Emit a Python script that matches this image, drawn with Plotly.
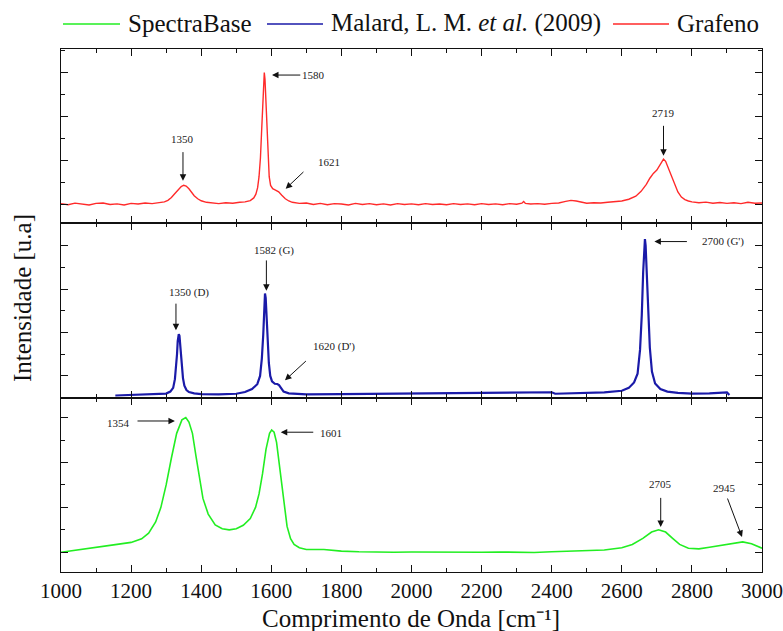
import plotly.graph_objects as go
from plotly.subplots import make_subplots

# ---------------- data ----------------
grafeno_pts = [
    (1000,0.02),(1020,-0.03),(1040,0.04),(1060,0.00),(1080,-0.04),(1100,0.03),(1120,0.05),(1140,-0.02),
    (1160,0.01),(1180,-0.04),(1200,0.03),(1220,0.00),(1240,0.05),(1260,0.02),(1280,0.06),(1295,0.10),
    (1305,0.17),(1315,0.30),(1325,0.48),(1335,0.68),(1343,0.80),(1350,0.86),(1357,0.82),(1365,0.70),
    (1372,0.55),(1380,0.38),(1390,0.24),(1400,0.15),(1415,0.08),(1430,0.05),(1450,0.02),(1470,0.06),
    (1490,0.04),(1510,0.08),(1525,0.10),(1540,0.16),(1550,0.28),(1556,0.45),(1561,0.75),(1565,1.25),
    (1569,2.1),(1572,3.2),(1575,4.5),(1578,5.6),(1580,6.0),(1582,5.7),(1585,4.6),(1588,3.2),(1591,2.0),
    (1594,1.25),(1598,0.85),(1604,0.70),(1612,0.64),(1621,0.56),(1630,0.40),(1640,0.24),(1650,0.14),
    (1660,0.08),(1680,0.03),(1700,0.05),(1720,-0.02),(1740,0.03),(1760,-0.03),(1780,0.02),(1800,0.00),
    (1820,-0.04),(1840,0.03),(1860,-0.02),(1880,0.02),(1900,-0.03),(1920,0.01),(1940,-0.04),(1960,0.02),
    (1980,-0.02),(2000,0.01),(2020,-0.03),(2040,0.02),(2060,-0.02),(2080,0.00),(2100,-0.03),(2120,0.02),
    (2140,-0.02),(2160,0.01),(2180,-0.03),(2200,0.02),(2220,-0.02),(2240,0.01),(2260,-0.03),(2280,0.02),
    (2300,-0.01),(2315,0.04),(2320,0.12),(2325,0.03),(2340,0.00),(2360,0.02),(2380,-0.01),(2400,0.03),
    (2420,0.05),(2440,0.12),(2455,0.17),(2470,0.14),(2485,0.08),(2500,0.04),(2520,0.06),(2540,0.05),
    (2560,0.08),(2580,0.10),(2600,0.14),(2620,0.22),(2640,0.36),(2655,0.58),(2670,0.90),(2680,1.18),
    (2690,1.40),(2700,1.55),(2710,1.80),(2719,2.05),(2725,1.95),(2732,1.68),(2740,1.30),(2750,0.90),
    (2760,0.55),(2770,0.32),(2780,0.20),(2790,0.14),(2800,0.10),(2820,0.06),(2840,0.09),(2860,0.04),
    (2880,0.07),(2900,0.03),(2920,0.06),(2940,0.02),(2960,0.08),(2980,0.04),(3000,0.05),
]

malard_pts = [
    (1155,0.10),(1200,0.12),(1250,0.14),(1280,0.16),(1300,0.19),(1312,0.28),(1320,0.45),(1325,0.85),
    (1328,1.3),(1331,2.0),(1333,2.6),(1336,2.92),(1338,2.85),(1340,2.5),(1342,2.0),(1345,1.4),(1348,0.9),
    (1352,0.55),(1358,0.35),(1365,0.26),(1380,0.20),(1400,0.16),(1450,0.15),(1500,0.18),(1525,0.26),
    (1545,0.40),(1560,0.62),(1568,1.0),(1573,1.8),(1577,2.9),(1580,4.0),(1582,4.8),(1584,4.6),(1587,3.6),
    (1590,2.5),(1593,1.6),(1597,1.0),(1602,0.75),(1610,0.64),(1617,0.63),(1622,0.58),(1628,0.42),
    (1635,0.28),(1650,0.20),(1700,0.15),(1800,0.16),(1900,0.17),(2000,0.18),(2100,0.19),(2200,0.21),
    (2300,0.23),(2400,0.25),(2410,0.18),(2450,0.20),(2500,0.21),(2550,0.24),(2600,0.32),(2620,0.45),
    (2635,0.70),(2645,1.1),(2652,2.2),(2657,3.8),(2661,5.8),(2664,7.0),(2666,7.3),(2668,7.0),(2671,5.8),
    (2675,4.0),(2680,2.3),(2686,1.2),(2695,0.65),(2710,0.40),(2730,0.28),(2760,0.22),(2800,0.19),
    (2850,0.20),(2880,0.22),(2900,0.24),(2907,0.12),
]

spectrabase_pts = [
    (1000,0.0),(1050,0.12),(1100,0.24),(1150,0.33),(1200,0.44),(1230,0.60),(1250,0.85),(1270,1.35),
    (1285,2.0),(1300,3.0),(1315,4.2),(1330,5.3),(1345,5.9),(1356,6.0),(1365,5.8),(1375,5.3),(1385,4.3),
    (1395,3.3),(1405,2.4),(1420,1.7),(1440,1.22),(1460,1.05),(1480,1.0),(1500,1.05),(1520,1.2),
    (1540,1.5),(1555,2.0),(1565,2.6),(1575,3.5),(1585,4.6),(1595,5.3),(1601,5.45),(1608,5.35),
    (1615,4.9),(1622,4.0),(1630,2.9),(1638,1.9),(1645,1.15),(1655,0.6),(1665,0.35),(1680,0.2),
    (1700,0.12),(1750,0.12),(1800,0.05),(1850,0.02),(1900,0.0),(1950,0.0),(2000,0.01),(2050,0.0),
    (2100,0.02),(2150,0.01),(2200,0.0),(2250,0.01),(2300,0.0),(2350,-0.01),(2400,0.02),(2450,0.05),
    (2500,0.06),(2550,0.10),(2600,0.2),(2630,0.35),(2660,0.62),(2685,0.9),(2705,1.0),(2725,0.9),
    (2745,0.62),(2765,0.35),(2790,0.18),(2820,0.15),(2850,0.22),(2880,0.30),(2910,0.38),(2945,0.46),
    (2970,0.38),(2990,0.26),(3000,0.18),
]

series_names = ["SpectraBase", "Malard, L. M. <i>et al.</i> (2009)", "Grafeno"]

# peak labels: (row, text, text_x, text_y, tail_x, tail_y, head_x, head_y)
labels = [
    (1, "1350", 1348, 2.99, 1348, 2.44, 1348, 1.07),
    (1, "1580", 1721, 5.89, 1687, 5.89, 1602, 5.89),
    (1, "1621", 1764, 1.94, 1696, 1.53, 1641, 0.70),
    (1, "2719", 2719, 4.17, 2719, 3.64, 2719, 2.21),
    (2, "1350 (D)", 1365, 4.85, 1328, 4.4, 1328, 3.1),
    (2, "1582 (G)", 1607, 6.8, 1586, 6.39, 1586, 4.93),
    (2, "1620 (D')", 1778, 2.36, 1703, 1.75, 1639, 0.8),
    (2, "2700 (G')", 2889, 7.19, 2790, 7.19, 2693, 7.19),
    (3, "1354", 1164, 5.78, 1214, 5.85, 1325, 5.85),
    (3, "1601", 1770, 5.31, 1724, 5.35, 1627, 5.35),
    (3, "2705", 2711, 3.06, 2711, 2.49, 2711, 1.13),
    (3, "2945", 2893, 2.88, 2900, 2.46, 2943, 0.68),
]

# ---------------- figure ----------------
FONT = "Liberation Serif"
series_colors = ["#22ee22", "#1a1aa8", "#ff2a2a"]
series_widths = [1.6, 2.2, 1.4]
series_rows = [3, 2, 1]

W, H = 783, 631
ML, MR, MT, MB = 61, 21, 49, 59
PW, PH = W - ML - MR, H - MT - MB

fig = make_subplots(rows=3, cols=1, shared_xaxes=True, vertical_spacing=0)

for pts, name, col, wdt, row in zip([spectrabase_pts, malard_pts, grafeno_pts], series_names,
                                    series_colors, series_widths, series_rows):
    fig.add_trace(go.Scatter(x=[p[0] for p in pts], y=[p[1] for p in pts], mode="lines", name=name,
                             line=dict(color=col, width=wdt), showlegend=False), row=row, col=1)

y_ranges = {1: [-0.88, 7.08], 2: [0, 8.03], 3: [-0.88, 6.89]}
y_tick0 = {1: 0, 2: 1, 3: 0}

for r in (1, 2, 3):
    fig.update_xaxes(range=[1000, 3000], dtick=200, tick0=1000, ticks="inside", ticklen=7,
                     tickwidth=1.2, tickcolor="#111", showline=True, linecolor="#111",
                     linewidth=1.2, mirror="allticks", showgrid=False, zeroline=False,
                     minor=dict(dtick=100, ticks="inside", ticklen=4, tickcolor="#111", tickwidth=1.2),
                     tickfont=dict(family=FONT, size=21, color="#111"), row=r, col=1)
    fig.update_yaxes(range=y_ranges[r], dtick=2, tick0=y_tick0[r], ticks="inside", ticklen=7,
                     tickwidth=1.2, tickcolor="#111", showline=True, linecolor="#111",
                     linewidth=1.2, mirror="allticks", showgrid=False, zeroline=False,
                     showticklabels=False,
                     minor=dict(dtick=1, ticks="inside", ticklen=4, tickcolor="#111", tickwidth=1.2),
                     row=r, col=1)

annotations = []
for (r, txt, tx, ty, ax0, ay0, hx, hy) in labels:
    xr = "x" if r == 1 else f"x{r}"
    yr = "y" if r == 1 else f"y{r}"
    annotations.append(dict(x=tx, y=ty, xref=xr, yref=yr, text=txt, showarrow=False,
                            font=dict(family=FONT, size=11, color="#222")))
    annotations.append(dict(x=hx, y=hy, xref=xr, yref=yr, ax=ax0, ay=ay0, axref=xr, ayref=yr,
                            text="", showarrow=True, arrowhead=2, arrowsize=1.3,
                            arrowwidth=1, arrowcolor="#111"))

def px2paper_x(px):
    return (px - ML) / PW

def py2paper_y(py):
    return (H - MB - py) / PH

annotations.append(dict(x=px2paper_x(22), y=py2paper_y(298), xref="paper", yref="paper",
                        text="Intensidade [u.a]", textangle=-90, showarrow=False,
                        xanchor="center", yanchor="middle",
                        font=dict(family=FONT, size=25, color="#111")))
annotations.append(dict(x=px2paper_x(411), y=py2paper_y(618), xref="paper", yref="paper",
                        text="Comprimento de Onda [cm\u207b\u00b9]", showarrow=False,
                        xanchor="center", yanchor="middle",
                        font=dict(family=FONT, size=25, color="#111")))

# legend drawn as line samples + texts above the plot (pixel positions of entries)
legend_line_x = [(63, 120), (267, 323), (613, 669)]
legend_y = 24
shapes = []
for (x0, x1), name, col in zip(legend_line_x, series_names, series_colors):
    shapes.append(dict(type="line", xref="paper", yref="paper",
                       x0=px2paper_x(x0), x1=px2paper_x(x1),
                       y0=py2paper_y(legend_y), y1=py2paper_y(legend_y),
                       line=dict(color=col, width=1.6)))
    annotations.append(dict(x=px2paper_x(x1 + 6), y=py2paper_y(legend_y - 1), xref="paper",
                            yref="paper", text=name, showarrow=False, xanchor="left",
                            yanchor="middle", font=dict(family=FONT, size=25, color="#111")))

fig.update_layout(
    width=W, height=H,
    margin=dict(l=ML, r=MR, t=MT, b=MB, autoexpand=False),
    plot_bgcolor="white", paper_bgcolor="white",
    showlegend=False,
    annotations=annotations,
    shapes=shapes,
)

fig.write_html("out.html", config={"displayModeBar": False},
               post_script="document.body.style.margin='0';document.body.style.overflow='hidden';")
